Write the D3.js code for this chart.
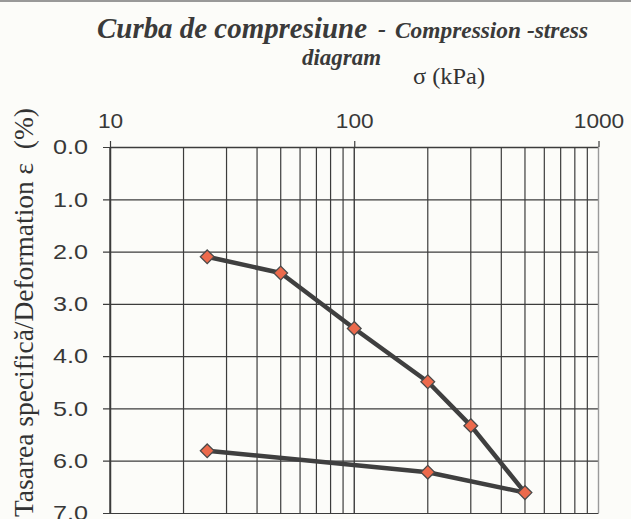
<!DOCTYPE html>
<html><head><meta charset="utf-8">
<script src="https://cdn.jsdelivr.net/npm/d3@7"></script>
<style>html,body{margin:0;padding:0;background:#fcfcf9;overflow:hidden}</style>
</head><body>
<script>
const stress = [25, 50, 100, 200, 300, 500, 200, 25];
const strain = [2.10, 2.41, 3.47, 4.49, 5.33, 6.61, 6.22, 5.81];
const xTicks = [10, 100, 1000];
const yTicks = [0, 1, 2, 3, 4, 5, 6, 7];
const minorX = [20,30,40,50,60,70,80,90,200,300,400,500,600,700,800,900];

const W = 631, H = 519;
const svg = d3.select("body").append("svg").attr("width", W).attr("height", H);
svg.append("rect").attr("width", W).attr("height", H).attr("fill", "#fcfcf9");
svg.append("rect").attr("width", W).attr("height", 2).attr("fill", "#999");

const x = d3.scaleLog().domain([10, 1000]).range([110, 598.5]);
const y = d3.scaleLinear().domain([0, 7]).range([147, 513]);
const grid = "#3c3c3c";
const sans = "Liberation Sans, Arial, sans-serif";
const serif = "Liberation Serif, Times New Roman, serif";

// minor vertical grid
svg.append("g").selectAll("line").data(minorX).join("line")
  .attr("x1", d => x(d)).attr("x2", d => x(d)).attr("y1", y(0)).attr("y2", y(7))
  .attr("stroke", grid).attr("stroke-width", 1.2);

// y axis with grid
const ya = svg.append("g").attr("transform", `translate(${x(10)},0)`)
  .call(d3.axisLeft(y).tickValues(yTicks).tickFormat(d3.format(".1f"))
    .tickSizeInner(-(x(1000) - x(10))).tickSizeOuter(0).tickPadding(22));
ya.select(".domain").attr("stroke", grid).attr("stroke-width", 1.5);
ya.selectAll(".tick line").attr("stroke", grid).attr("stroke-width", 1.2)
  .attr("x1", -7);
ya.selectAll(".tick text").attr("font-family", sans)
  .attr("font-size", 21).attr("fill", "#383838")
  .attr("textLength", 35).attr("lengthAdjust", "spacingAndGlyphs");

// x axis top
const xa = svg.append("g").attr("transform", `translate(0,${y(0)})`)
  .call(d3.axisTop(x).tickValues(xTicks).tickFormat(d3.format("d"))
    .tickSizeInner(6).tickSizeOuter(0).tickPadding(13));
xa.select(".domain").attr("stroke", grid).attr("stroke-width", 1.5);
xa.selectAll(".tick line").attr("stroke", grid).attr("stroke-width", 1.2);
xa.selectAll(".tick text").attr("font-family", sans)
  .attr("font-size", 21).attr("fill", "#383838")
  .attr("textLength", d => String(d).length * 12.6).attr("lengthAdjust", "spacingAndGlyphs");
// major vertical grid lines
svg.append("g").selectAll("line").data(xTicks).join("line")
  .attr("x1", d => x(d)).attr("x2", d => x(d)).attr("y1", y(0)).attr("y2", y(7))
  .attr("stroke", (d, i) => i === 2 ? "#9a9a9a" : grid).attr("stroke-width", 1.4);

// data line
const pts = stress.map((s, i) => [s, strain[i]]);
svg.append("path").datum(pts)
  .attr("d", d3.line().x(d => x(d[0])).y(d => y(d[1])))
  .attr("fill", "none").attr("stroke", "#3f3f3f").attr("stroke-width", 4.5)
  .attr("stroke-linejoin", "round");
svg.append("g").selectAll("path").data(pts).join("path")
  .attr("d", d3.symbol(d3.symbolDiamond2, 120)())
  .attr("transform", d => `translate(${x(d[0])},${y(d[1])})`)
  .attr("fill", "#ec6a4c").attr("stroke", "#4a4a4a").attr("stroke-width", 1.3);

// titles
function txt(s, xx, yy, size, len, bold, italic, fill) {
  svg.append("text").attr("x", xx).attr("y", yy).attr("font-family", serif)
    .attr("font-size", size).attr("font-weight", bold ? "bold" : "normal")
    .attr("font-style", italic ? "italic" : "normal").attr("fill", fill || "#3a3a3a")
    .attr("textLength", len).attr("lengthAdjust", "spacingAndGlyphs").text(s);
}
txt("Curba de compresiune", 97, 38, 30, 270, true, true);
txt("-", 378, 37, 24, 8, true, true);
txt("Compression -stress", 395, 38, 24, 193, true, true);
txt("diagram", 302, 65, 23, 79, true, true);
txt("σ (kPa)", 413, 84, 23, 72, false, false, "#333");

svg.append("text").attr("transform", "translate(33,517) rotate(-90)")
  .attr("text-anchor", "start").attr("font-family", serif).attr("font-size", 27)
  .attr("fill", "#333").attr("xml:space", "preserve")
  .attr("textLength", 409).attr("lengthAdjust", "spacingAndGlyphs")
  .text("Tasarea specifică/Deformation ε  (%)");
</script>
</body></html>
